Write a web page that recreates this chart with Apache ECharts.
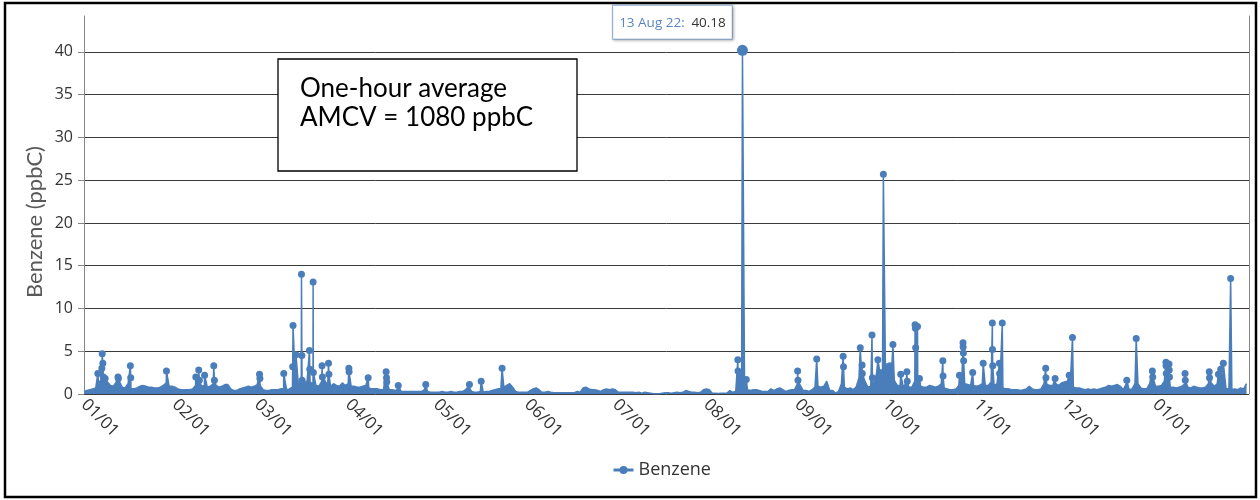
<!DOCTYPE html>
<html><head><meta charset="utf-8">
<script src="https://cdn.jsdelivr.net/npm/echarts@6/dist/echarts.min.js"></script>
<style>html,body{margin:0;padding:0;background:#fff}#c{width:1260px;height:500px}</style>
</head><body><div id="c"></div>
<script>
// ---------- data ----------
const seriesName = 'Benzene';
const yAxisTitle = 'Benzene (ppbC)';
const noteLines = ['One-hour average', 'AMCV = 1080 ppbC'];
const yTickValues = [0, 5, 10, 15, 20, 25, 30, 35, 40];
const monthTicks = ['2022-01-01','2022-02-01','2022-03-01','2022-04-01','2022-05-01','2022-06-01',
  '2022-07-01','2022-08-01','2022-09-01','2022-10-01','2022-11-01','2022-12-01','2023-01-01'];
const monthNames = ['Jan','Feb','Mar','Apr','May','Jun','Jul','Aug','Sep','Oct','Nov','Dec'];

// daily baseline level (ppbC), one value per day
const base2022Jan = [0.3,0.4,0.5,0.6,0.7,1.2,1.8,1.6,1.4,1.0,0.9,1.4,1.5,0.8,0.7,1.2,0.6,0.6,0.7,0.9,1.0,0.9,0.8,0.8,0.7,0.7,0.8,1.0,1.3,0.9,0.9];
const base2022Feb = [0.8,0.6,0.5,0.5,0.5,0.5,0.6,1.0,1.2,0.9,1.0,0.8,0.9,1.2,1.0,0.8,0.9,1.1,1.1,0.6,0.4,0.4,0.6,0.7,0.8,0.9,0.8,0.9];
const base2022Mar = [1.1,1.0,0.5,0.4,0.4,0.5,0.5,0.5,0.6,0.6,0.5,0.6,0.8,1.0,1.2,1.4,1.3,1.5,1.4,1.2,1.0,0.9,1.5,1.6,1.0,0.9,1.2,1.0,0.9,1.3,1.0];
const base2022Apr = [1.2,0.9,0.9,0.8,0.8,0.9,1.0,0.7,0.6,0.6,0.6,0.5,0.5,0.8,0.5,0.5,0.4,0.6,0.3,0.3,0.3,0.3,0.3,0.3,0.3,0.3,0.5,0.3,0.2,0.2];
const base2022May = [0.2,0.2,0.3,0.2,0.2,0.3,0.2,0.2,0.3,0.3,0.5,0.9,0.3,0.2,0.2,0.3,0.2,0.3,0.3,0.4,0.5,0.6,0.6,0.8,1.0,1.2,0.8,0.3,0.2,0.2,0.2];
const base2022Jun = [0.2,0.4,0.6,0.7,0.5,0.2,0.2,0.3,0.2,0.15,0.15,0.15,0.15,0.15,0.15,0.15,0.15,0.3,0.2,0.7,0.8,0.6,0.5,0.5,0.4,0.3,0.5,0.6,0.5,0.6];
const base2022Jul = [0.5,0.2,0.2,0.2,0.2,0.2,0.2,0.15,0.2,0.1,0.2,0.15,0.1,0.02,0.02,0.02,0.1,0.15,0.15,0.1,0.15,0.2,0.15,0.2,0.4,0.3,0.2,0.2,0.15,0.2,0.5];
const base2022Aug = [0.6,0.5,0.1,0.1,0.05,0.1,0.1,0.1,0.4,0.2,0.3,2.6,2.0,1.0,0.5,0.4,0.5,0.5,0.4,0.3,0.3,0.3,0.6,0.4,0.6,0.7,0.5,0.3,0.4,0.5,0.5];
const base2022Sep = [1.2,1.0,0.4,0.4,0.3,0.5,0.8,0.9,0.8,0.9,1.5,0.4,0.4,0.1,0.3,1.2,0.8,0.6,0.7,0.5,0.8,1.9,1.5,1.5,0.8,0.9,0.9,2.5,2.8,2.8];
const base2022Oct = [2.5,2.6,2.0,1.6,1.0,1.0,0.9,1.2,0.8,0.8,1.5,1.2,0.9,0.8,0.8,1.0,0.9,0.8,0.9,1.2,0.7,0.6,0.5,0.5,0.6,1.0,1.4,1.2,1.1,1.0,1.0];
const base2022Nov = [0.9,1.0,1.2,1.0,1.0,1.4,1.0,1.2,1.3,0.7,0.6,0.6,0.5,0.5,0.5,0.4,0.5,0.6,0.9,0.6,0.5,0.5,0.6,1.2,1.1,1.0,1.0,1.2,1.0,1.3];
const base2022Dec = [1.4,1.5,1.5,0.8,0.7,0.7,0.6,0.5,0.6,0.5,0.6,0.5,0.6,0.7,0.8,1.0,0.9,1.0,1.1,0.9,0.5,1.2,0.5,0.6,1.2,1.2,0.7,0.6,0.6,1.2,0.9];
const base2023Jan = [0.9,0.9,1.0,1.5,1.5,0.8,0.8,0.7,0.8,0.9,1.2,0.8,0.7,0.9,0.8,0.7,0.7,0.8,1.2,1.3,0.9,1.2,1.3,1.5,0.6,0.6,0.5,0.6,0.5,0.7,0.6];
const base2023Feb = [1.2];

// individual hourly peaks (marked points)
const spikeTimes = [
  '2022-01-05 17:00','2022-01-07 02:00','2022-01-07 05:00','2022-01-07 10:00','2022-01-07 14:00','2022-01-08 05:00',
  '2022-01-12 14:00','2022-01-12 17:00','2022-01-16 19:00','2022-01-16 22:00','2022-01-29 02:00',
  '2022-02-08 02:00','2022-02-09 02:00','2022-02-09 07:00','2022-02-11 02:00','2022-02-14 05:00','2022-02-14 10:00',
  '2022-03-01 19:00','2022-03-01 22:00','2022-03-10 01:00','2022-03-13 02:00','2022-03-13 05:00','2022-03-14 05:00',
  '2022-03-16 02:00','2022-03-16 05:00','2022-03-16 07:00','2022-03-18 19:00','2022-03-18 22:00',
  '2022-03-20 01:00','2022-03-20 03:00','2022-03-23 02:00','2022-03-23 05:00','2022-03-25 07:00','2022-03-25 10:00',
  '2022-04-01 05:00','2022-04-01 07:00','2022-04-07 19:00','2022-04-13 22:00','2022-04-14 01:00','2022-04-14 03:00',
  '2022-04-18 01:00','2022-04-27 10:00',
  '2022-05-12 07:00','2022-05-16 07:00','2022-05-23 10:00',
  '2022-08-11 17:00','2022-08-11 19:00','2022-08-13 07:00','2022-08-14 14:00',
  '2022-09-01 02:00','2022-09-01 05:00','2022-09-07 14:00','2022-09-16 14:00','2022-09-16 17:00','2022-09-22 10:00',
  '2022-09-23 01:00','2022-09-23 03:00','2022-09-26 10:00','2022-09-26 13:00','2022-09-28 10:00','2022-09-30 07:00',
  '2022-10-01 14:00','2022-10-02 14:00','2022-10-03 13:00','2022-10-06 05:00','2022-10-08 07:00','2022-10-08 10:00',
  '2022-10-11 02:00','2022-10-11 05:00','2022-10-11 07:00','2022-10-11 22:00','2022-10-12 14:00',
  '2022-10-20 13:00','2022-10-20 15:00','2022-10-26 05:00','2022-10-27 10:00','2022-10-27 11:00','2022-10-27 13:00',
  '2022-10-27 15:00','2022-10-30 17:00',
  '2022-11-03 07:00','2022-11-06 10:00','2022-11-06 11:00','2022-11-06 13:00','2022-11-08 19:00','2022-11-08 21:00',
  '2022-11-09 19:00','2022-11-24 14:00','2022-11-24 16:00','2022-11-27 19:00',
  '2022-12-02 14:00','2022-12-03 17:00','2022-12-22 05:00','2022-12-25 10:00','2022-12-30 22:00','2022-12-31 01:00',
  '2023-01-04 13:00','2023-01-04 14:00','2023-01-04 16:00','2023-01-05 14:00','2023-01-05 16:00','2023-01-05 18:00',
  '2023-01-11 01:00','2023-01-11 03:00','2023-01-19 07:00','2023-01-19 09:00','2023-01-22 10:00','2023-01-23 05:00',
  '2023-01-24 02:00','2023-01-26 14:00'
];
const spikeValues = [
  2.4,3.0,4.7,3.6,2.0,1.8,
  2.0,1.8,3.3,1.9,2.7,
  2.0,2.8,1.6,2.2,3.3,1.6,
  2.3,1.8,2.4,3.2,8.0,4.6,
  14.0,4.5,1.6,5.1,2.9,
  13.1,2.5,3.3,2.0,3.6,2.3,
  3.0,2.6,1.9,2.6,1.9,1.4,
  1.0,1.1,
  1.1,1.5,3.0,
  4.0,2.7,40.18,1.7,
  2.7,1.6,4.1,4.4,3.2,5.4,
  3.4,2.4,6.9,1.9,4.0,25.7,
  3.2,3.3,5.8,2.3,2.6,1.5,
  8.1,7.7,5.4,7.9,1.8,
  3.9,2.1,2.2,6.0,5.5,4.8,
  3.9,2.5,
  3.6,8.3,5.2,3.3,3.6,2.4,
  8.3,3.0,1.9,1.8,
  2.2,6.6,1.6,6.5,2.7,2.0,
  3.7,3.3,2.4,3.5,2.8,2.0,
  2.4,1.6,2.6,1.9,2.3,2.9,
  3.6,13.5
];

// ---------- build ----------
const COLOR = '#4a7ebb';
const baseMonths = [
  [2022,0,base2022Jan],[2022,1,base2022Feb],[2022,2,base2022Mar],[2022,3,base2022Apr],
  [2022,4,base2022May],[2022,5,base2022Jun],[2022,6,base2022Jul],[2022,7,base2022Aug],
  [2022,8,base2022Sep],[2022,9,base2022Oct],[2022,10,base2022Nov],[2022,11,base2022Dec],
  [2023,0,base2023Jan],[2023,1,base2023Feb]
];
function parseUTC(s) {
  const parts = s.split(' ');
  const d = parts[0].split('-').map(Number);
  const h = parts[1] ? Number(parts[1].split(':')[0]) : 0;
  return Date.UTC(d[0], d[1] - 1, d[2], h);
}
const points = [];
baseMonths.forEach(([y, m, vals]) => {
  vals.forEach((v, i) => points.push({ value: [Date.UTC(y, m, i + 1, 0), v] }));
});
let peakIdx = 0;
spikeValues.forEach((v, i) => { if (v > spikeValues[peakIdx]) peakIdx = i; });
spikeTimes.forEach((s, i) => {
  points.push({ value: [parseUTC(s), spikeValues[i]], symbolSize: i === peakIdx ? 11 : 7 });
});
points.sort((a, b) => a.value[0] - b.value[0]);
const peakT = parseUTC(spikeTimes[peakIdx]);
const peakV = spikeValues[peakIdx];
const pd = new Date(peakT);
const peakLabel = pd.getUTCDate() + ' ' + monthNames[pd.getUTCMonth()] + ' ' + String(pd.getUTCFullYear()).slice(2) + ':';
const pad = n => (n < 10 ? '0' : '') + n;

const chart = echarts.init(document.getElementById('c'), null, { renderer: 'canvas' });
chart.setOption({
  animation: false,
  backgroundColor: '#fff',
  grid: { left: 84, right: 11, top: 16, bottom: 106 },
  legend: {
    data: [seriesName], left: 607, top: 456, itemWidth: 20, itemHeight: 10, itemGap: 5,
    textStyle: { fontSize: 18, color: '#333', fontFamily: 'Open Sans' },
    lineStyle: { width: 3 }
  },
  xAxis: {
    type: 'value',
    min: Date.UTC(2022, 0, 1),
    max: Date.UTC(2023, 1, 1, 20),
    axisLine: { show: false },
    axisTick: { show: false, customValues: monthTicks.map(parseUTC) },
    splitLine: { show: false },
    axisLabel: {
      customValues: monthTicks.map(parseUTC),
      rotate: -45, fontSize: 17, color: '#333', fontFamily: 'Open Sans', margin: 8,
      formatter: v => { const d = new Date(v); return pad(d.getUTCMonth() + 1) + '/' + pad(d.getUTCDate()); }
    }
  },
  yAxis: [{
    type: 'value', min: 0, max: e => e.max * 1.1,
    axisLine: { show: true, lineStyle: { color: '#868686', width: 1 } },
    axisTick: { show: true, length: 6, customValues: yTickValues, lineStyle: { color: '#868686' } },
    axisLabel: { customValues: yTickValues, fontSize: 16, color: '#333', fontFamily: 'Open Sans', margin: 11 },
    splitLine: { show: true, lineStyle: { color: '#3a3a3a', width: 1 } }
  }, {
    type: 'value', position: 'right', min: 0, max: 1,
    axisLine: { show: true, lineStyle: { color: '#868686', width: 1 } },
    axisTick: { show: false }, axisLabel: { show: false }, splitLine: { show: false }
  }],
  series: [{
    type: 'line', name: seriesName, data: points,
    symbol: 'circle', symbolSize: 0, showSymbol: true, showAllSymbol: true,
    lineStyle: { color: COLOR, width: 1.5 },
    itemStyle: { color: COLOR },
    areaStyle: { color: COLOR, opacity: 1 },
    emphasis: { disabled: true },
    markPoint: {
      silent: true, symbol: 'circle', symbolSize: 1,
      itemStyle: { color: 'rgba(0,0,0,0)' },
      data: [{ coord: [peakT, peakV], value: peakV }],
      label: {
        show: true, position: 'top', distance: 11, offset: [-70, 0],
        formatter: () => '{d|' + peakLabel + '}  {v|' + peakV.toFixed(2) + '}',
        backgroundColor: '#fff', borderColor: '#8fb0da', borderWidth: 1,
        padding: [10, 6, 9, 6],
        shadowBlur: 3, shadowOffsetX: 1, shadowOffsetY: 1, shadowColor: 'rgba(0,0,0,0.25)',
        rich: {
          d: { color: '#5a86c0', fontSize: 13.5, fontFamily: 'Open Sans' },
          v: { color: '#333', fontSize: 13.5, fontFamily: 'Open Sans' }
        }
      }
    }
  }],
  graphic: [
    { type: 'rect', silent: true, z: 100, shape: { x: 5, y: 3, width: 1251, height: 494 },
      style: { fill: 'none', stroke: '#000', lineWidth: 2.5 } },
    { type: 'rect', silent: true, z: 100, shape: { x: 278, y: 59, width: 299, height: 112 },
      style: { fill: '#fff', stroke: '#000', lineWidth: 1.3 } },
    { type: 'text', silent: true, z: 101, x: 300, y: 89,
      style: { text: noteLines[0], fill: '#000', fontSize: 26, fontFamily: 'Lato', verticalAlign: 'middle' } },
    { type: 'text', silent: true, z: 101, x: 300, y: 118,
      style: { text: noteLines[1], fill: '#000', fontSize: 26, fontFamily: 'Lato', verticalAlign: 'middle' } },
    { type: 'text', silent: true, z: 101, x: 35, y: 222, rotation: Math.PI / 2,
      style: { text: yAxisTitle, fill: '#595959', fontSize: 22, fontFamily: 'Lato', align: 'center', verticalAlign: 'middle' } }
  ]
});
</script></body></html>
